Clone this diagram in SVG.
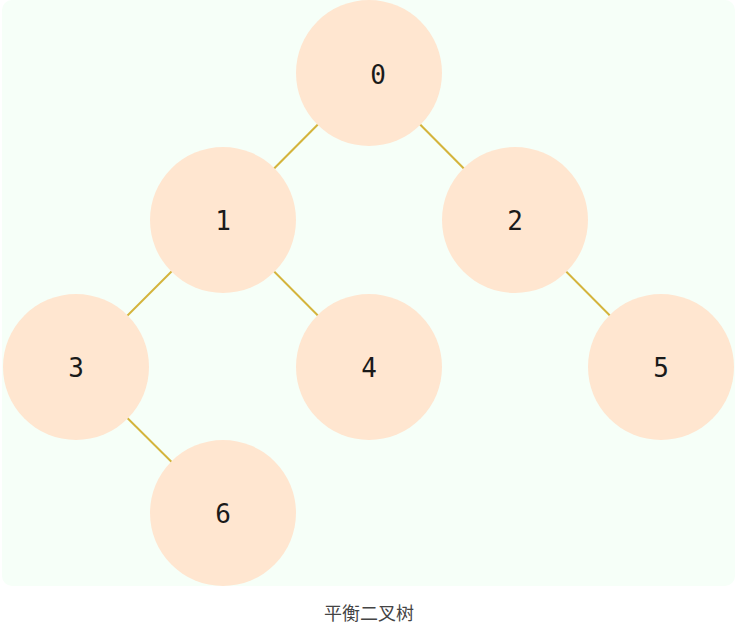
<svg xmlns="http://www.w3.org/2000/svg" width="737" height="634" viewBox="0 0 737 634">
<style>
.n circle{fill:#ffe6d0}
.n text{font-family:"DejaVu Sans Mono",monospace;font-size:26px;fill:#1a1a1a;text-anchor:middle;dominant-baseline:central}
#edges line{stroke:#d4b43c;stroke-width:2}
</style>
<rect x="2" y="0" width="733" height="586" rx="10" fill="#f6fff8"/>
<g id="edges">
<line x1="369" y1="73" x2="223" y2="220"/>
<line x1="369" y1="73" x2="515" y2="220"/>
<line x1="223" y1="220" x2="76" y2="367"/>
<line x1="223" y1="220" x2="369" y2="367"/>
<line x1="515" y1="220" x2="661" y2="367"/>
<line x1="76" y1="367" x2="223" y2="513"/>
</g>
<g id="n0" class="n"><circle cx="369" cy="73" r="73"/><text x="378" y="75">0</text></g>
<g id="n1" class="n"><circle cx="223" cy="220" r="73"/><text x="223" y="221">1</text></g>
<g id="n2" class="n"><circle cx="515" cy="220" r="73"/><text x="515" y="221">2</text></g>
<g id="n3" class="n"><circle cx="76" cy="367" r="73"/><text x="76" y="368">3</text></g>
<g id="n4" class="n"><circle cx="369" cy="367" r="73"/><text x="369" y="368">4</text></g>
<g id="n5" class="n"><circle cx="661" cy="367" r="73"/><text x="661" y="368">5</text></g>
<g id="n6" class="n"><circle cx="223" cy="513" r="73"/><text x="223" y="514">6</text></g>
<text x="369" y="612" font-family="'Noto Sans CJK SC',sans-serif" font-size="18" fill="#444" text-anchor="middle" dominant-baseline="central">平衡二叉树</text>
</svg>
